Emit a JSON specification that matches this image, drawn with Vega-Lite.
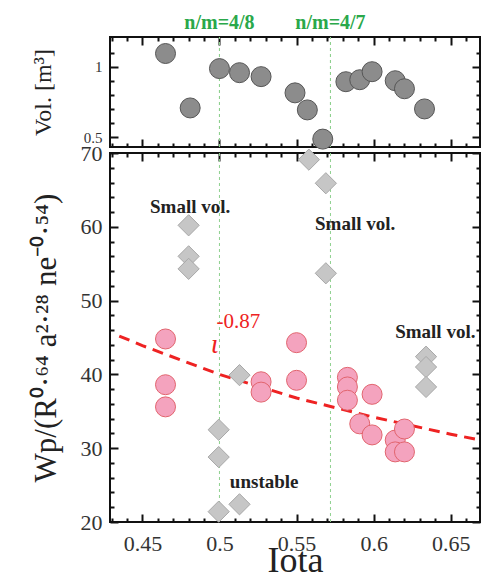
{
  "$schema": "https://vega.github.io/schema/vega-lite/v6.json",
  "padding": {"left": 29, "top": 11, "right": 4, "bottom": 0},
  "spacing": 6,
  "bounds": "flush",
  "background": "white",
  "config": {
    "view": {"stroke": "#111", "strokeWidth": 2},
    "font": "Liberation Serif",
    "axis": {"grid": false, "domain": false, "tickColor": "#111", "tickWidth": 2, "labelFont": "Liberation Serif", "titleFont": "Liberation Serif", "labelColor": "#333", "titleColor": "#222", "titleFontWeight": "normal", "labelFontSize": 22, "minExtent": 0}
  },
  "datasets": {
    "vol": [
      {"iota": 0.465, "vol": 1.093}, {"iota": 0.481, "vol": 0.707}, {"iota": 0.5, "vol": 0.986},
      {"iota": 0.513, "vol": 0.957}, {"iota": 0.527, "vol": 0.929}, {"iota": 0.549, "vol": 0.814},
      {"iota": 0.557, "vol": 0.693}, {"iota": 0.567, "vol": 0.486}, {"iota": 0.582, "vol": 0.893},
      {"iota": 0.591, "vol": 0.907}, {"iota": 0.599, "vol": 0.964}, {"iota": 0.614, "vol": 0.9},
      {"iota": 0.62, "vol": 0.843}, {"iota": 0.633, "vol": 0.7}
    ],
    "circ": [
      {"iota": 0.465, "wp": 44.8}, {"iota": 0.465, "wp": 38.6}, {"iota": 0.465, "wp": 35.6},
      {"iota": 0.527, "wp": 39.0}, {"iota": 0.527, "wp": 37.6}, {"iota": 0.55, "wp": 44.3},
      {"iota": 0.55, "wp": 39.2}, {"iota": 0.583, "wp": 39.6}, {"iota": 0.583, "wp": 38.3},
      {"iota": 0.583, "wp": 36.5}, {"iota": 0.591, "wp": 33.3}, {"iota": 0.599, "wp": 37.3},
      {"iota": 0.599, "wp": 31.8}, {"iota": 0.614, "wp": 31.1}, {"iota": 0.614, "wp": 29.5},
      {"iota": 0.62, "wp": 32.6}, {"iota": 0.62, "wp": 29.5}
    ],
    "diam": [
      {"iota": 0.558, "wp": 69.1}, {"iota": 0.569, "wp": 65.9}, {"iota": 0.48, "wp": 60.2},
      {"iota": 0.48, "wp": 56.0}, {"iota": 0.48, "wp": 54.3}, {"iota": 0.569, "wp": 53.7},
      {"iota": 0.513, "wp": 39.9}, {"iota": 0.4995, "wp": 32.5}, {"iota": 0.4995, "wp": 28.8},
      {"iota": 0.4995, "wp": 21.4}, {"iota": 0.513, "wp": 22.4}, {"iota": 0.634, "wp": 42.4},
      {"iota": 0.634, "wp": 41.0}, {"iota": 0.634, "wp": 38.3}
    ],
    "fit": [
      {"iota": 0.435, "wp": 45.2}, {"iota": 0.45, "wp": 43.9}, {"iota": 0.5, "wp": 40.0},
      {"iota": 0.55, "wp": 36.8}, {"iota": 0.6, "wp": 34.2}, {"iota": 0.65, "wp": 31.9},
      {"iota": 0.669, "wp": 31.1}
    ],
    "res": [
      {"iota": 0.5, "label": "n/m=4/8", "lv": 1.31},
      {"iota": 0.572, "label": "n/m=4/7", "lv": 1.31}
    ],
    "notes": [
      {"iota": 0.481, "wp": 62.7, "label": "Small vol."},
      {"iota": 0.588, "wp": 60.4, "label": "Small vol."},
      {"iota": 0.640, "wp": 45.7, "label": "Small vol."},
      {"iota": 0.529, "wp": 25.4, "label": "unstable"}
    ],
    "expo": [{"iota": 0.5123, "wp": 47.1, "label": "-0.87"}],
    "sym": [{"iota": 0.4968, "wp": 44.0, "label": "ι"}]
  },
  "vconcat": [
    {
      "width": 370,
      "height": 110,
      "resolve": {"axis": {"x": "independent", "y": "independent"}},
      "layer": [
        {
          "data": {"name": "res"},
          "mark": {"type": "rule", "color": "#8fd08f", "strokeWidth": 1, "strokeDash": [3, 3]},
          "encoding": {
            "x": {"field": "iota", "type": "quantitative", "scale": {"domain": [0.429, 0.669], "nice": false},
                  "axis": {"orient": "bottom", "values": [0.45, 0.5, 0.55, 0.6, 0.65], "labels": false, "tickSize": -8, "title": null}},
            "y": {"datum": 0.43, "type": "quantitative", "scale": {"domain": [0.43, 1.21], "nice": false},
                  "axis": {"orient": "left", "values": [0.6, 0.7, 0.8, 0.9, 1.1], "labels": false, "tickSize": -4, "title": null}},
            "y2": {"datum": 1.21}
          }
        },
        {
          "data": {"name": "res"},
          "mark": {"type": "rule", "color": "#8fd08f", "strokeWidth": 1, "strokeDash": [3, 3]},
          "encoding": {
            "x": {"field": "iota", "type": "quantitative", "scale": {"domain": [0.429, 0.669], "nice": false},
                  "axis": {"orient": "top", "values": [0.45, 0.5, 0.55, 0.6, 0.65], "labels": false, "tickSize": -8, "title": null}},
            "y": {"datum": 0.43, "type": "quantitative", "scale": {"domain": [0.43, 1.21], "nice": false},
                  "axis": {"orient": "right", "values": [0.6, 0.7, 0.8, 0.9, 1.1], "labels": false, "tickSize": -4, "title": null}},
            "y2": {"datum": 1.21}
          }
        },
        {
          "data": {"name": "vol"},
          "mark": {"type": "point", "shape": "circle", "filled": true, "size": 400, "fill": "#8c8c8c", "stroke": "#565656", "strokeWidth": 1, "opacity": 1, "clip": false},
          "encoding": {
            "x": {"field": "iota", "type": "quantitative", "scale": {"domain": [0.429, 0.669], "nice": false},
                  "axis": {"orient": "top", "values": [0.43, 0.44, 0.46, 0.47, 0.48, 0.49, 0.51, 0.52, 0.53, 0.54, 0.56, 0.57, 0.58, 0.59, 0.61, 0.62, 0.63, 0.64, 0.66], "labels": false, "tickSize": -4, "title": null}},
            "y": {"field": "vol", "type": "quantitative", "scale": {"domain": [0.43, 1.21], "nice": false},
                  "axis": {"orient": "left", "values": [0.5, 1], "format": ".1~f", "tickSize": -8, "labelPadding": 16, "labelFontSize": 15, "title": "Vol. [m³]", "titleFontSize": 24, "titlePadding": 28}}
          }
        },
        {
          "data": {"name": "res"},
          "mark": {"type": "text", "color": "#2aa84a", "fontSize": 20, "fontWeight": "bold", "font": "Liberation Serif", "clip": false},
          "encoding": {
            "x": {"field": "iota", "type": "quantitative", "scale": {"domain": [0.429, 0.669], "nice": false},
                  "axis": {"orient": "bottom", "values": [0.43, 0.44, 0.46, 0.47, 0.48, 0.49, 0.51, 0.52, 0.53, 0.54, 0.56, 0.57, 0.58, 0.59, 0.61, 0.62, 0.63, 0.64, 0.66], "labels": false, "tickSize": -4, "title": null}},
            "y": {"field": "lv", "type": "quantitative", "scale": {"domain": [0.43, 1.21], "nice": false},
                  "axis": {"orient": "right", "values": [0.5, 1], "labels": false, "tickSize": -8, "title": null}},
            "text": {"field": "label"}
          }
        }
      ]
    },
    {
      "width": 370,
      "height": 369,
      "resolve": {"axis": {"x": "independent", "y": "independent"}},
      "layer": [
        {
          "data": {"name": "res"},
          "mark": {"type": "rule", "color": "#8fd08f", "strokeWidth": 1, "strokeDash": [3, 3]},
          "encoding": {
            "x": {"field": "iota", "type": "quantitative", "scale": {"domain": [0.429, 0.669], "nice": false},
                  "axis": {"orient": "bottom", "values": [0.45, 0.5, 0.55, 0.6, 0.65], "format": ".2~f", "tickSize": -8, "labelPadding": 19, "labelFontSize": 22, "title": "Iota", "titleFontSize": 36, "titlePadding": -11}},
            "y": {"datum": 20, "type": "quantitative", "scale": {"domain": [20, 70], "nice": false},
                  "axis": {"orient": "right", "values": [22, 24, 26, 28, 32, 34, 36, 38, 42, 44, 46, 48, 52, 54, 56, 58, 62, 64, 66, 68], "labels": false, "tickSize": -4, "title": null}},
            "y2": {"datum": 70}
          }
        },
        {
          "data": {"name": "fit"},
          "mark": {"type": "line", "color": "#ee2222", "strokeWidth": 3, "strokeDash": [11, 7]},
          "encoding": {
            "x": {"field": "iota", "type": "quantitative", "scale": {"domain": [0.429, 0.669], "nice": false},
                  "axis": {"orient": "top", "values": [0.45, 0.5, 0.55, 0.6, 0.65], "labels": false, "tickSize": -8, "title": null}},
            "y": {"field": "wp", "type": "quantitative", "scale": {"domain": [20, 70], "nice": false},
                  "axis": {"orient": "left", "values": [20, 30, 40, 50, 60, 70], "tickSize": -8, "labelPadding": 16, "labelFontSize": 22, "title": "Wp/(R⁰·⁶⁴ a²·²⁸ ne⁻⁰·⁵⁴)", "titleFontSize": 31, "titlePadding": 18}}
          }
        },
        {
          "data": {"name": "diam"},
          "mark": {"type": "point", "shape": "diamond", "filled": true, "size": 450, "fill": "#c6c6c6", "stroke": "#a8a8a8", "strokeWidth": 1, "opacity": 1},
          "encoding": {
            "x": {"field": "iota", "type": "quantitative", "scale": {"domain": [0.429, 0.669], "nice": false},
                  "axis": {"orient": "bottom", "values": [0.43, 0.44, 0.46, 0.47, 0.48, 0.49, 0.51, 0.52, 0.53, 0.54, 0.56, 0.57, 0.58, 0.59, 0.61, 0.62, 0.63, 0.64, 0.66], "labels": false, "tickSize": -4, "title": null}},
            "y": {"field": "wp", "type": "quantitative", "scale": {"domain": [20, 70], "nice": false},
                  "axis": {"orient": "right", "values": [20, 30, 40, 50, 60, 70], "labels": false, "tickSize": -8, "title": null}}
          }
        },
        {
          "data": {"name": "circ"},
          "mark": {"type": "point", "shape": "circle", "filled": true, "size": 400, "fill": "#f4a3be", "stroke": "#e2646e", "strokeWidth": 1, "opacity": 1},
          "encoding": {
            "x": {"field": "iota", "type": "quantitative", "scale": {"domain": [0.429, 0.669], "nice": false},
                  "axis": {"orient": "top", "values": [0.43, 0.44, 0.46, 0.47, 0.48, 0.49, 0.51, 0.52, 0.53, 0.54, 0.56, 0.57, 0.58, 0.59, 0.61, 0.62, 0.63, 0.64, 0.66], "labels": false, "tickSize": -4, "title": null}},
            "y": {"field": "wp", "type": "quantitative", "scale": {"domain": [20, 70], "nice": false},
                  "axis": {"orient": "left", "values": [22, 24, 26, 28, 32, 34, 36, 38, 42, 44, 46, 48, 52, 54, 56, 58, 62, 64, 66, 68], "labels": false, "tickSize": -4, "title": null}}
          }
        },
        {
          "data": {"name": "notes"},
          "mark": {"type": "text", "color": "#222", "fontSize": 19, "fontWeight": "bold", "font": "Liberation Serif"},
          "encoding": {
            "x": {"field": "iota", "type": "quantitative", "scale": {"domain": [0.429, 0.669], "nice": false}, "axis": null},
            "y": {"field": "wp", "type": "quantitative", "scale": {"domain": [20, 70], "nice": false}, "axis": null},
            "text": {"field": "label"}
          }
        },
        {
          "data": {"name": "expo"},
          "mark": {"type": "text", "color": "#ee2222", "fontSize": 21, "font": "Liberation Serif"},
          "encoding": {
            "x": {"field": "iota", "type": "quantitative", "scale": {"domain": [0.429, 0.669], "nice": false}, "axis": null},
            "y": {"field": "wp", "type": "quantitative", "scale": {"domain": [20, 70], "nice": false}, "axis": null},
            "text": {"field": "label"}
          }
        },
        {
          "data": {"name": "sym"},
          "mark": {"type": "text", "color": "#ee2222", "fontSize": 28, "fontStyle": "italic", "font": "Liberation Serif"},
          "encoding": {
            "x": {"field": "iota", "type": "quantitative", "scale": {"domain": [0.429, 0.669], "nice": false}, "axis": null},
            "y": {"field": "wp", "type": "quantitative", "scale": {"domain": [20, 70], "nice": false}, "axis": null},
            "text": {"field": "label"}
          }
        }
      ]
    }
  ]
}
